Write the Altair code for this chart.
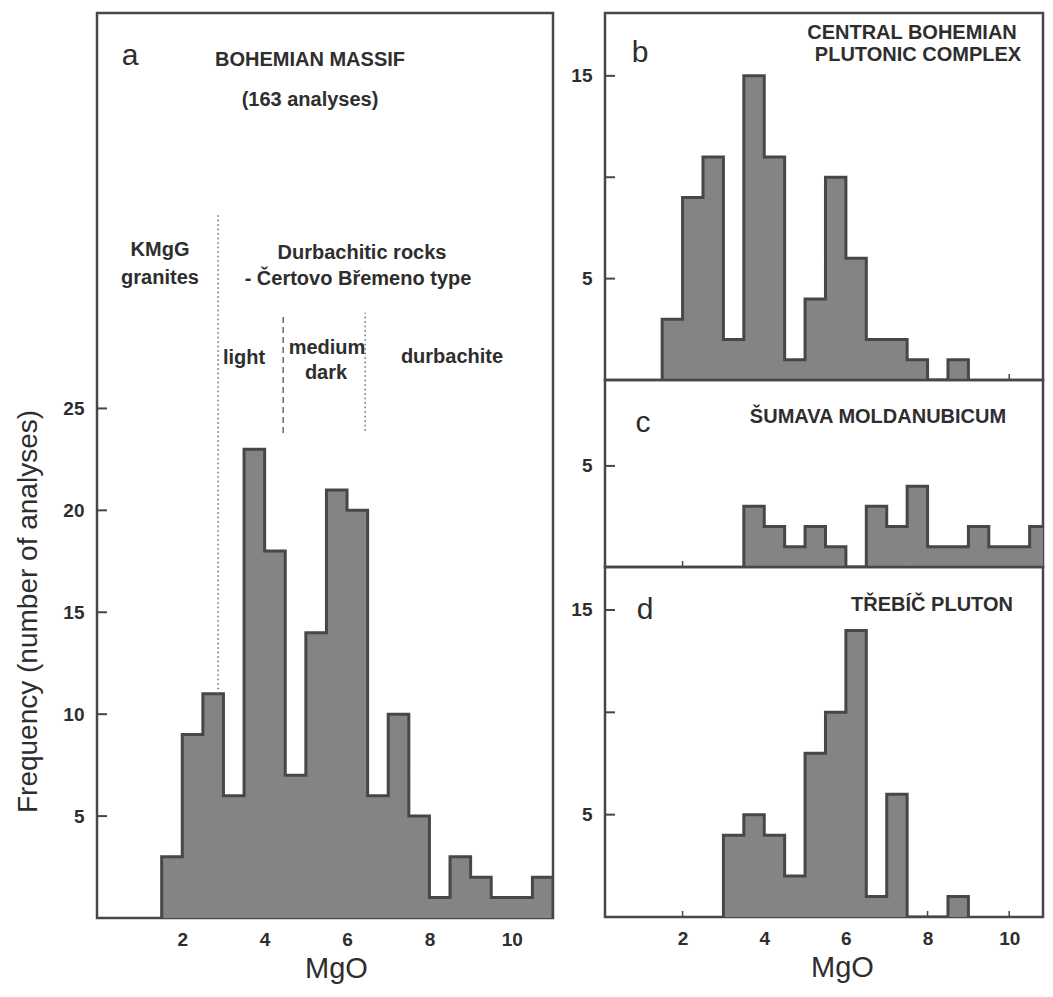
import altair as alt
import pandas as pd

# ---------------- data ----------------
BIN = 0.5
# a: Bohemian Massif (163 analyses)
a_start = 1.5
a_counts = [3, 9, 11, 6, 23, 18, 7, 14, 21, 20, 6, 10, 5, 1, 3, 2, 1, 1, 2]
# b: Central Bohemian Plutonic Complex
b_start = 1.5
b_counts = [3, 9, 11, 2, 15, 11, 1, 4, 10, 6, 2, 2, 1, 0, 1]
# c: Sumava Moldanubicum
c_start = 3.5
c_counts = [3, 2, 1, 2, 1, 0, 3, 2, 4, 1, 1, 2, 1, 1, 2]
# d: Trebic pluton
d_start = 3.0
d_counts = [4, 5, 4, 2, 8, 10, 14, 1, 6, 0, 0, 1]

x_ticks = [2, 4, 6, 8, 10]
a_yticks = [5, 10, 15, 20, 25]
b_yticks = [5, 10, 15]
b_ylabels = [5, 15]
c_yticks = [5]
d_yticks = [5, 10, 15]
d_ylabels = [5, 15]

# field boundaries in panel a (MgO value, lower and upper frequency)
div_dotted_x = [2.87, 6.44]
div_dotted_y0 = [11, 23.9]
div_dotted_y1 = [34.6, 29.7]
div_dashed_x = [4.45]
div_dashed_y0 = [23.8]
div_dashed_y1 = [29.5]

# ---------------- styling ----------------
FONT = "Liberation Sans"
DARK = "#474747"
FILL = "#848484"
TXT = "#2e2e2e"


def bar_table(start, counts):
    s = [start + i * BIN for i in range(len(counts))]
    return pd.DataFrame({"s": s, "e": [v + BIN for v in s], "n": counts})


def line_table(start, counts):
    end = start + len(counts) * BIN
    xs = [start] + [start + i * BIN for i in range(len(counts))] + [end, end]
    ys = [0] + list(counts) + [counts[-1], 0]
    return pd.DataFrame({"mgo": xs, "n": ys, "o": range(len(xs))})


def txt(s, x, y, size=20, weight="bold", align="center"):
    return alt.Chart(pd.DataFrame({"s": [s]})).mark_text(
        font=FONT, fontSize=size, fontWeight=weight, color=TXT,
        align=align, baseline="middle"
    ).encode(text="s:N", x=alt.value(x), y=alt.value(y))


def xtitle_x(w):
    return 239 if w > 450 else 237


def panel(start, counts, xdom, ydom, w, h, yticks, ylabels, show_x, extra=(), ytitle=None):
    xs = alt.Scale(domain=xdom, nice=False, zero=False)
    ys = alt.Scale(domain=ydom, nice=False, zero=False)
    if show_x:
        xaxis = alt.Axis(values=x_ticks, ticks=False, domain=False, grid=False,
                         labelFont=FONT, labelFontSize=19, labelFontWeight="bold",
                         labelColor=TXT, labelPadding=12,
                         title="MgO", titleFont=FONT, titleFontSize=29,
                         titleFontWeight="normal", titleColor=TXT,
                         titleX=xtitle_x(w), titleY=59, titleBaseline="alphabetic")
    else:
        xaxis = None
    yaxis_kw = dict(values=ylabels, ticks=False, domain=False, grid=False,
                    labelFont=FONT, labelFontSize=19, labelFontWeight="bold",
                    labelColor=TXT, labelPadding=13)
    if ytitle:
        yaxis = alt.Axis(title=ytitle, titleFont=FONT, titleFontSize=28,
                         titleFontWeight="normal", titleColor=TXT,
                         titleX=-69, titleY=598, titleBaseline="middle",
                         titleAlign="center", titleAngle=-90, **yaxis_kw)
    else:
        yaxis = alt.Axis(title=None, **yaxis_kw)

    layers = []
    # inward x ticks (under the bars)
    layers.append(
        alt.Chart(pd.DataFrame({"t": x_ticks})).mark_rule(color=DARK, strokeWidth=1.5).encode(
            x=alt.X("t:Q", scale=xs, axis=xaxis), y=alt.value(h), y2=alt.value(h - 6))
    )
    layers.append(
        alt.Chart(bar_table(start, counts)).mark_bar(
            color=FILL, opacity=1, stroke=FILL, strokeWidth=1, clip=True
        ).encode(
            x=alt.X("s:Q", scale=xs, axis=xaxis), x2="e:Q",
            y=alt.Y("n:Q", scale=ys, axis=yaxis), y2=alt.datum(0))
    )
    layers.append(
        alt.Chart(line_table(start, counts)).mark_line(
            interpolate="step-after", color=DARK, strokeWidth=3, clip=True
        ).encode(x=alt.X("mgo:Q", scale=xs, axis=xaxis),
                 y=alt.Y("n:Q", scale=ys, axis=yaxis),
                 order=alt.Order("o:Q"))
    )
    layers.append(
        alt.Chart(pd.DataFrame({"t": yticks})).mark_rule(color=DARK, strokeWidth=2).encode(
            y=alt.Y("t:Q", scale=ys, axis=yaxis), x=alt.value(0), x2=alt.value(10))
    )
    layers.extend(extra)
    return alt.layer(*layers).properties(width=w, height=h)


A_XD = [-0.07, 11]
A_YD = [0, 44.4]
axs = alt.Scale(domain=A_XD, nice=False, zero=False)
ays = alt.Scale(domain=A_YD, nice=False, zero=False)

div_dot = alt.Chart(pd.DataFrame({"x": div_dotted_x, "y0": div_dotted_y0, "y1": div_dotted_y1})).mark_rule(
    color="#6a6a6a", strokeWidth=1.5, strokeDash=[1.5, 3]
).encode(x=alt.X("x:Q", scale=axs), y=alt.Y("y0:Q", scale=ays), y2="y1:Q")
div_dash = alt.Chart(pd.DataFrame({"x": div_dashed_x, "y0": div_dashed_y0, "y1": div_dashed_y1})).mark_rule(
    color="#6a6a6a", strokeWidth=1.5, strokeDash=[6, 4]
).encode(x=alt.X("x:Q", scale=axs), y=alt.Y("y0:Q", scale=ays), y2="y1:Q")

a_text = [
    div_dot, div_dash,
    txt("a", 33, 43, size=30, weight="normal"),
    txt("BOHEMIAN MASSIF", 213, 47),
    txt("(163 analyses)", 213, 87),
    txt("KMgG", 63, 237),
    txt("granites", 63, 265),
    txt("Durbachitic rocks", 265, 240),
    txt("- Čertovo Břemeno type", 261, 266),
    txt("light", 147, 345),
    txt("medium", 230, 335),
    txt("dark", 229, 360),
    txt("durbachite", 355, 344),
]

chart_a = panel(a_start, a_counts, A_XD, A_YD, 456, 905, a_yticks, a_yticks, True,
                extra=a_text, ytitle="Frequency (number of analyses)")

RW = 438
R_XD = [0.1, 0.1 + RW / 40.83]
chart_b = panel(b_start, b_counts, R_XD, [0, 18.1], RW, 367, b_yticks, b_ylabels, False,
                extra=[txt("b", 35, 40, size=30, weight="normal"),
                       txt("CENTRAL BOHEMIAN", 307, 20),
                       txt("PLUTONIC COMPLEX", 313, 42)])
chart_c = panel(c_start, c_counts, R_XD, [0, 9.25], RW, 187, c_yticks, c_yticks, False,
                extra=[txt("c", 38, 43, size=30, weight="normal"),
                       txt("ŠUMAVA MOLDANUBICUM", 273, 37)])
chart_d = panel(d_start, d_counts, R_XD, [0, 17.1], RW, 350, d_yticks, d_ylabels, True,
                extra=[txt("d", 40, 43, size=30, weight="normal"),
                       txt("TŘEBÍČ PLUTON", 327, 38)])

right = alt.vconcat(chart_b, chart_c, chart_d, spacing=0, bounds="flush")
chart = alt.hconcat(chart_a, right, spacing=52, bounds="flush").properties(
    autosize=alt.AutoSizeParams(type="none"),
    padding={"left": 89, "top": 5, "right": 948, "bottom": 972},
    background="white",
).configure_view(stroke=DARK, strokeWidth=2.5)

chart.save("out.html", embed_options={"renderer": "svg", "actions": False})
